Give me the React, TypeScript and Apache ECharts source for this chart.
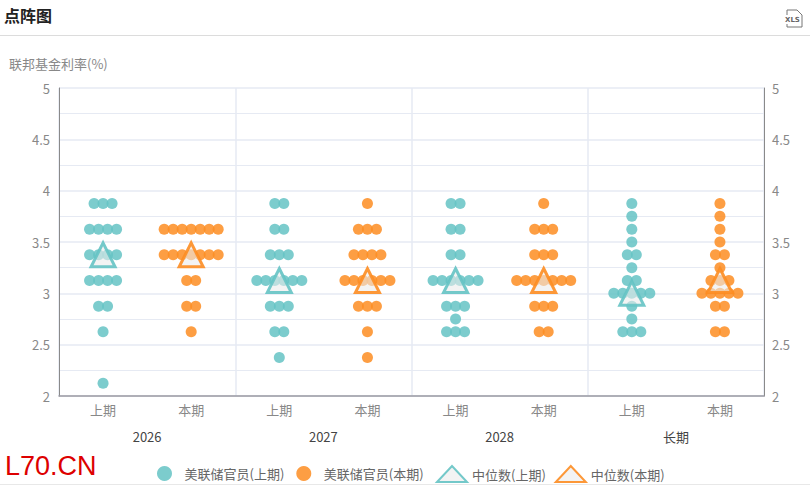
import React, { useEffect, useRef } from 'react';
import * as echarts from 'echarts';

const FONT = '"Noto Sans CJK SC", "Noto Sans", sans-serif';
const TEAL = '#65c3c4';
const ORANGE = '#fd8d22';

const periods = ['上期', '本期', '上期', '本期', '上期', '本期', '上期', '本期'];
const years = ['2026', '2027', '2028', '长期'];

// 每列: [利率, 人数]
const dots2026Prev = [[3.875, 3], [3.625, 4], [3.375, 4], [3.125, 4], [2.875, 2], [2.625, 1], [2.125, 1]];
const dots2026Curr = [[3.625, 7], [3.375, 7], [3.125, 2], [2.875, 2], [2.625, 1]];
const dots2027Prev = [[3.875, 2], [3.625, 2], [3.375, 3], [3.125, 6], [2.875, 3], [2.625, 2], [2.375, 1]];
const dots2027Curr = [[3.875, 1], [3.625, 3], [3.375, 4], [3.125, 6], [2.875, 3], [2.625, 1], [2.375, 1]];
const dots2028Prev = [[3.875, 2], [3.625, 2], [3.375, 2], [3.125, 6], [2.875, 3], [2.75, 1], [2.625, 3]];
const dots2028Curr = [[3.875, 1], [3.625, 3], [3.375, 3], [3.125, 7], [2.875, 3], [2.625, 2]];
const dotsLongPrev = [[3.875, 1], [3.75, 1], [3.625, 1], [3.5, 1], [3.375, 2], [3.25, 1], [3.125, 2], [3, 5], [2.875, 1], [2.75, 1], [2.625, 3]];
const dotsLongCurr = [[3.875, 1], [3.75, 1], [3.625, 1], [3.5, 1], [3.375, 2], [3.25, 1], [3.125, 3], [3, 5], [2.875, 2], [2.625, 2]];

const medianPrev = [3.375, 3.125, 3.125, 3];
const medianCurr = [3.375, 3.125, 3.125, 3.125];

const DOT_GAP = 9;

// 同一利率的点在类目中心左右展开
const spread = (column: number, rows: number[][]) =>
  rows.flatMap(([rate, count]) =>
    Array.from({ length: count }, (_, i) => ({
      value: [column, rate],
      symbolOffset: [(i - (count - 1) / 2) * DOT_GAP, 0],
    })),
  );

const dotSeries = (name: string, color: string, data: any[]) => ({
  name,
  type: 'scatter',
  symbol: 'circle',
  symbolSize: 11,
  itemStyle: { color, opacity: 0.85 },
  data,
  z: 2,
});

const medianSeries = (name: string, color: string, data: number[][]) => ({
  name,
  type: 'scatter',
  symbol: 'triangle',
  symbolSize: 24,
  itemStyle: { color: 'rgba(235,235,235,0.65)', borderColor: color, borderWidth: 3, opacity: 0.9 },
  data,
  z: 3,
});

const App: React.FC = () => {
  const chartRef = useRef<HTMLDivElement | null>(null);

  useEffect(() => {
    if (!chartRef.current) return;
    const myChart = echarts.init(chartRef.current, undefined, { renderer: 'svg' });

    const yLabel = (v: number) => String(v);
    const legendText = { color: '#666', fontSize: 13, fontFamily: FONT };
    const option = {
      animation: false,
      textStyle: { fontFamily: FONT },
      grid: { left: 59, right: 46, top: 88, bottom: 90 },
      legend: [
        {
          left: 152,
          top: 461,
          itemWidth: 30,
          itemHeight: 15,
          itemGap: 12,
          textStyle: legendText,
          data: ['美联储官员(上期)', '美联储官员(本期)'],
        },
        {
          left: 431,
          top: 460,
          itemWidth: 30,
          itemHeight: 16,
          itemGap: 9,
          symbolKeepAspect: false,
          textStyle: legendText,
          data: ['中位数(上期)', '中位数(本期)'],
        },
      ],
      xAxis: [
        {
          type: 'category',
          data: periods,
          position: 'bottom',
          axisLine: { lineStyle: { color: '#9a9aa2', width: 1.5 } },
          axisTick: { show: false },
          axisLabel: { color: '#888', fontSize: 13, margin: 7, interval: 0 },
        },
        {
          type: 'category',
          data: years,
          position: 'bottom',
          offset: 27,
          axisLine: { show: false },
          axisTick: { show: false },
          axisLabel: { color: '#444', fontSize: 13, margin: 7 },
          splitLine: { show: true, lineStyle: { color: '#e6eaf3', width: 1.5 } },
        },
      ],
      yAxis: [
        {
          type: 'value',
          min: 2,
          max: 5,
          interval: 0.5,
          position: 'left',
          axisLine: { show: true, lineStyle: { color: '#8a8a8a' } },
          axisTick: { show: false },
          axisLabel: { color: '#888', fontSize: 13, margin: 9, formatter: yLabel },
          splitLine: { show: true, lineStyle: { color: '#e6eaf3', width: 1.5 } },
          minorTick: { show: false, splitNumber: 2 },
          minorSplitLine: { show: true, lineStyle: { color: '#e6eaf3', width: 1 } },
        },
        {
          type: 'value',
          min: 2,
          max: 5,
          interval: 0.5,
          position: 'right',
          axisLine: { show: true, lineStyle: { color: '#8a8a8a' } },
          axisTick: { show: false },
          axisLabel: { color: '#888', fontSize: 13, margin: 8, formatter: yLabel },
          splitLine: { show: false },
        },
      ],
      series: [
        dotSeries('美联储官员(上期)', TEAL, [
          ...spread(0, dots2026Prev),
          ...spread(2, dots2027Prev),
          ...spread(4, dots2028Prev),
          ...spread(6, dotsLongPrev),
        ]),
        dotSeries('美联储官员(本期)', ORANGE, [
          ...spread(1, dots2026Curr),
          ...spread(3, dots2027Curr),
          ...spread(5, dots2028Curr),
          ...spread(7, dotsLongCurr),
        ]),
        medianSeries('中位数(上期)', TEAL, medianPrev.map((v, i) => [i * 2, v])),
        medianSeries('中位数(本期)', ORANGE, medianCurr.map((v, i) => [i * 2 + 1, v])),
      ],
      graphic: [
        { type: 'text', left: 4, top: 7, style: { text: '点阵图', fill: '#222', font: `bold 16px ${FONT}` } },
        { type: 'line', shape: { x1: 0, y1: 35.5, x2: 810, y2: 35.5 }, style: { stroke: '#dcdcdc', lineWidth: 1 } },
        { type: 'text', left: 9, top: 57, style: { text: '联邦基金利率(%)', fill: '#888', font: `13px ${FONT}` } },
        { type: 'text', left: 5, top: 452, style: { text: 'L70.CN', fill: '#dd0000', font: '27px "Liberation Sans", sans-serif' } },
        { type: 'line', shape: { x1: 0, y1: 484.5, x2: 810, y2: 484.5 }, style: { stroke: '#e8e8e8', lineWidth: 1 } },
        {
          type: 'polyline',
          shape: { points: [[787, 15], [787, 10], [797, 10], [802, 15], [802, 27], [787, 27], [787, 24]] },
          style: { fill: 'none', stroke: '#777', lineWidth: 1 },
        },
        { type: 'text', left: 785, top: 16, style: { text: 'XLS', fill: '#666', font: `bold 7px "DejaVu Sans", sans-serif` } },
      ],
    };

    myChart.setOption(option);

    return () => {
      myChart.dispose();
    };
  }, []);

  return (
    <div
      ref={chartRef}
      style={{ position: 'absolute', left: 0, top: 0, width: 810, height: 486, background: '#fff' }}
    ></div>
  );
};

export default App;
